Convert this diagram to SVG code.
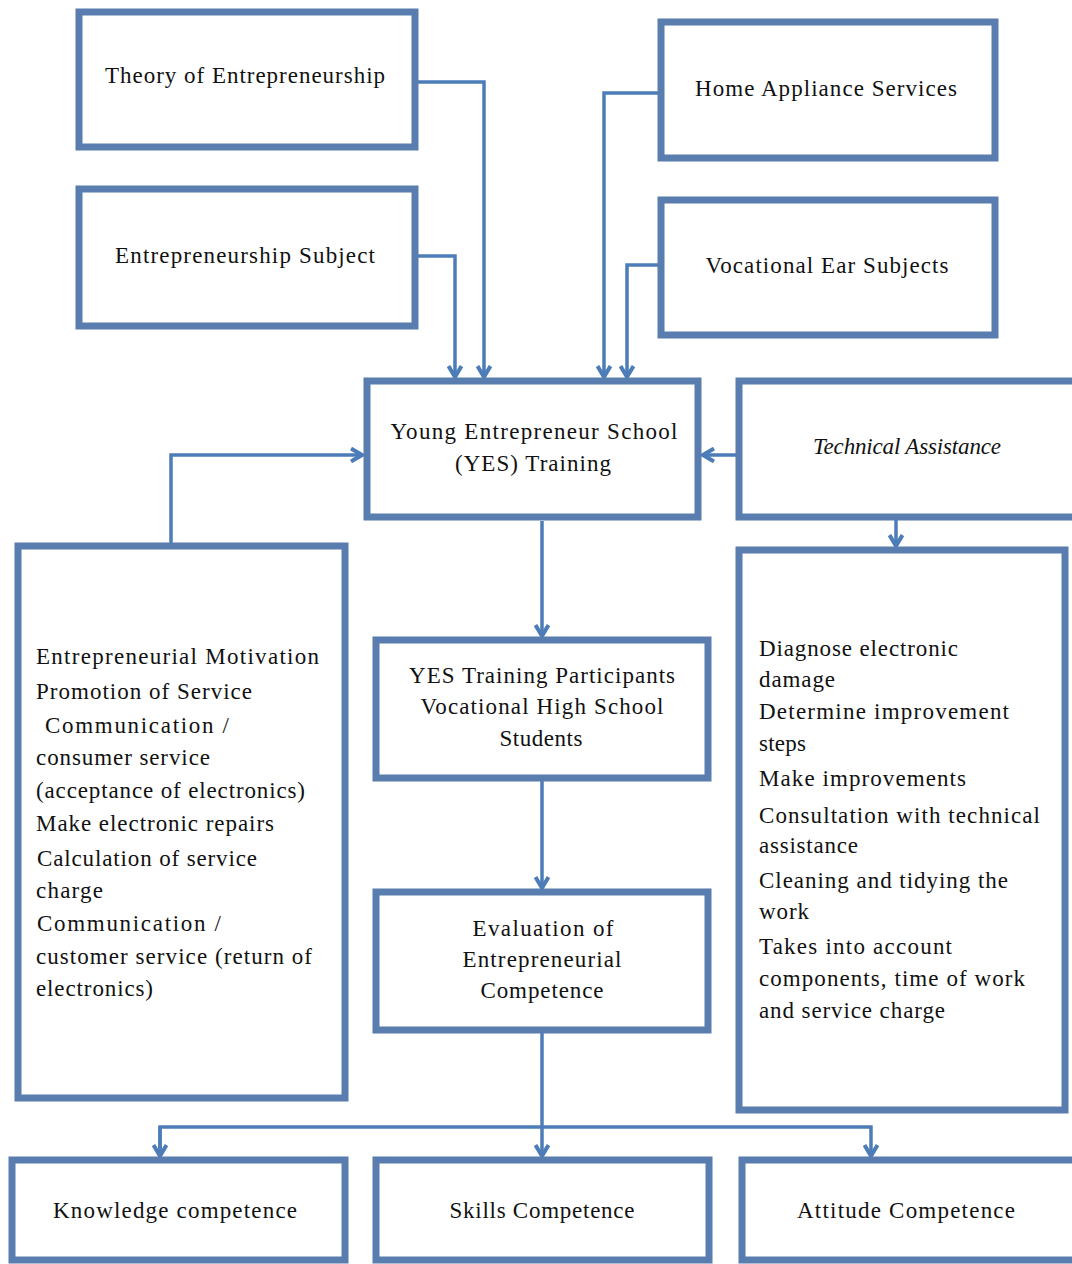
<svg xmlns="http://www.w3.org/2000/svg" width="1072" height="1264" viewBox="0 0 1072 1264">
<defs>
<style>
.box{fill:#ffffff;stroke:#587dae;stroke-width:7}
.con{fill:none;stroke:#4d7db8;stroke-width:3.5}
text{font-family:"Liberation Serif","Times New Roman",serif;font-size:23px;fill:#111}
.c{text-anchor:middle}
.it{font-style:italic}
</style>
<marker id="arr" viewBox="0 0 14 16" refX="12" refY="8" markerWidth="14" markerHeight="16" markerUnits="userSpaceOnUse" orient="auto">
<path d="M1,1.5 L12,8 L1,14.5" fill="none" stroke="#4d7db8" stroke-width="4"/>
</marker>
</defs>
<rect width="1072" height="1264" fill="#ffffff"/>

<g id="connectors">
<path class="con" d="M415,82 H484 V377" marker-end="url(#arr)"/>
<path class="con" d="M415,256 H455 V377" marker-end="url(#arr)"/>
<path class="con" d="M661,93 H604 V377" marker-end="url(#arr)"/>
<path class="con" d="M661,265 H627 V377" marker-end="url(#arr)"/>
<path class="con" d="M171,546 V455 H362" marker-end="url(#arr)"/>
<path class="con" d="M738,455 H703" marker-end="url(#arr)"/>
<path class="con" d="M896,517 V546" marker-end="url(#arr)"/>
<path class="con" d="M542,521 V636" marker-end="url(#arr)"/>
<path class="con" d="M542,778 V888" marker-end="url(#arr)"/>
<path class="con" d="M542,1030 V1156" marker-end="url(#arr)"/>
<path class="con" d="M160,1156 V1127 H871 V1156" marker-end="url(#arr)"/>
<path class="con" d="M160,1127 V1156" marker-end="url(#arr)"/>
</g>

<g id="theory">
<rect class="box" x="79" y="12" width="336" height="135"/>
<text class="c" x="245" y="83" textLength="280">Theory of Entrepreneurship</text>
</g>
<g id="entsubject">
<rect class="box" x="79" y="189" width="336" height="137"/>
<text class="c" x="245" y="263" textLength="260">Entrepreneurship Subject</text>
</g>
<g id="homeappliance">
<rect class="box" x="661" y="22" width="334" height="136"/>
<text class="c" x="826" y="96" textLength="262">Home Appliance Services</text>
</g>
<g id="vocational">
<rect class="box" x="661" y="200" width="334" height="135"/>
<text class="c" x="827" y="273" textLength="243">Vocational Ear Subjects</text>
</g>
<g id="yes">
<rect class="box" x="367" y="381" width="331" height="136"/>
<text class="c" x="534" y="439" textLength="287">Young Entrepreneur School</text>
<text class="c" x="533" y="471" textLength="156">(YES) Training</text>
</g>
<g id="technical">
<rect class="box" x="739" y="381" width="340" height="136"/>
<text class="c it" x="907" y="454" textLength="188">Technical Assistance</text>
</g>
<g id="leftbox">
<rect class="box" x="18" y="546" width="327" height="552"/>
<text x="36" y="664" textLength="283">Entrepreneurial Motivation</text>
<text x="36" y="699" textLength="216">Promotion of Service</text>
<text x="45" y="733" textLength="184">Communication /</text>
<text x="36" y="765" textLength="174">consumer service</text>
<text x="36" y="798" textLength="269">(acceptance of electronics)</text>
<text x="36" y="831" textLength="238">Make electronic repairs</text>
<text x="37" y="866" textLength="220">Calculation of service</text>
<text x="36" y="898" textLength="67">charge</text>
<text x="37" y="931" textLength="184">Communication /</text>
<text x="36" y="964" textLength="276">customer service (return of</text>
<text x="36" y="996" textLength="117">electronics)</text>
</g>
<g id="participants">
<rect class="box" x="376" y="640" width="332" height="138"/>
<text class="c" x="542" y="683" textLength="266">YES Training Participants</text>
<text class="c" x="542" y="714" textLength="243">Vocational High School</text>
<text class="c" x="541" y="746" textLength="83">Students</text>
</g>
<g id="rightbox">
<rect class="box" x="739" y="550" width="326" height="560"/>
<text x="759" y="656" textLength="199">Diagnose electronic</text>
<text x="759" y="687" textLength="76">damage</text>
<text x="759" y="719" textLength="250">Determine improvement</text>
<text x="759" y="751" textLength="47">steps</text>
<text x="759" y="786" textLength="207">Make improvements</text>
<text x="759" y="823" textLength="281">Consultation with technical</text>
<text x="759" y="853" textLength="99">assistance</text>
<text x="759" y="888" textLength="249">Cleaning and tidying the</text>
<text x="759" y="919" textLength="50">work</text>
<text x="759" y="954" textLength="193">Takes into account</text>
<text x="759" y="986" textLength="266">components, time of work</text>
<text x="759" y="1018" textLength="186">and service charge</text>
</g>
<g id="evaluation">
<rect class="box" x="376" y="892" width="332" height="138"/>
<text class="c" x="543" y="936" textLength="141">Evaluation of</text>
<text class="c" x="542" y="967" textLength="159">Entrepreneurial</text>
<text class="c" x="542" y="998" textLength="123">Competence</text>
</g>
<g id="knowledge">
<rect class="box" x="12" y="1160" width="333" height="100"/>
<text class="c" x="175" y="1218" textLength="244">Knowledge competence</text>
</g>
<g id="skills">
<rect class="box" x="376" y="1160" width="333" height="100"/>
<text class="c" x="542" y="1218" textLength="185">Skills Competence</text>
</g>
<g id="attitude">
<rect class="box" x="742" y="1160" width="340" height="100"/>
<text class="c" x="906" y="1218" textLength="218">Attitude Competence</text>
</g>
</svg>
